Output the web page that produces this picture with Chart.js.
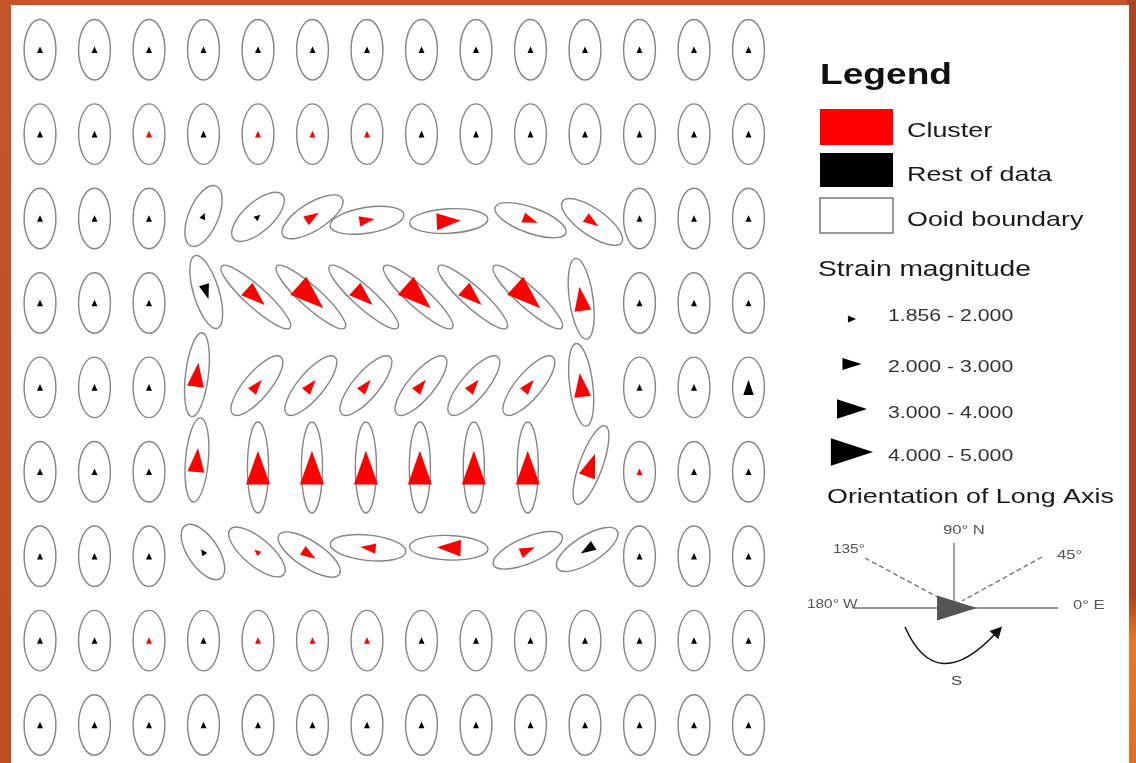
<!DOCTYPE html>
<html>
<head>
<meta charset="utf-8">
<script src="https://cdn.jsdelivr.net/npm/chart.js@4/dist/chart.umd.min.js"></script>
<style>
  html, body { margin: 0; padding: 0; background: #c1502a; overflow: hidden; }
  #wrap { position: absolute; left: 0; top: 0; width: 1136px; height: 763px; }
</style>
</head>
<body>
<div id="wrap"><canvas id="c" width="1136" height="763"></canvas></div>
<script>
// Ooid strain map: one entry per ooid, listed row by row (top row first).
// colPos / rowPos: ooid centre in grid units (column 1..14, row 1..9).
const colPos = [
  1, 2, 3, 4, 5, 6, 7, 8, 9, 10, 11, 12, 13, 14,
  1, 2, 3, 4, 5, 6, 7, 8, 9, 10, 11, 12, 13, 14,
  1, 2, 3, 4.0, 5.0, 6.0, 7.0, 8.5, 10.0, 11.13, 12, 13, 14,
  1, 2, 3, 4.05, 4.96, 5.97, 6.94, 7.94, 8.94, 9.95, 10.93, 12, 13, 14,
  1, 2, 3, 3.88, 4.98, 5.97, 6.98, 7.99, 8.96, 9.97, 10.93, 12, 13, 14,
  1, 2, 3, 3.88, 5.0, 5.99, 6.98, 7.97, 8.96, 9.95, 11.11, 12, 13, 14,
  1, 2, 3, 3.99, 4.98, 5.94, 7.02, 8.5, 9.95, 11.04, 12, 13, 14,
  1, 2, 3, 4, 5, 6, 7, 8, 9, 10, 11, 12, 13, 14,
  1, 2, 3, 4, 5, 6, 7, 8, 9, 10, 11, 12, 13, 14
];
const rowPos = [
  1, 1, 1, 1, 1, 1, 1, 1, 1, 1, 1, 1, 1, 1,
  2, 2, 2, 2, 2, 2, 2, 2, 2, 2, 2, 2, 2, 2,
  3, 3, 3, 2.97, 2.98, 2.98, 3.02, 3.03, 3.02, 3.04, 3, 3, 3,
  4, 4, 4, 3.87, 3.93, 3.93, 3.93, 3.93, 3.93, 3.93, 3.95, 4, 4, 4,
  5, 5, 5, 4.85, 4.98, 4.98, 4.98, 4.98, 4.98, 4.98, 4.97, 5, 5, 5,
  6, 6, 6, 5.86, 5.95, 5.95, 5.95, 5.95, 5.95, 5.95, 5.92, 6, 6, 6,
  7, 7, 7, 6.95, 6.95, 6.98, 6.90, 6.90, 6.93, 6.92, 7, 7, 7,
  8, 8, 8, 8, 8, 8, 8, 8, 8, 8, 8, 8, 8, 8,
  9, 9, 9, 9, 9, 9, 9, 9, 9, 9, 9, 9, 9, 9
];
// Orientation of the long axis, degrees counter-clockwise from 0° E (arrow direction).
const longAxisAngle = [
  90, 90, 90, 90, 90, 90, 90, 90, 90, 90, 90, 90, 90, 90,
  90, 90, 90, 90, 90, 90, 90, 90, 90, 90, 90, 90, 90, 90,
  90, 90, 90, 67, 42, 32, 9, 3, -20, -35, 90, 90, 90,
  90, 90, 90, -73, -42, -42, -42, -42, -42, -42, 98, 90, 90, 90,
  90, 90, 90, 83, 50, 50, 50, 50, 50, 50, 97, 90, 90, 90,
  90, 90, 90, 85, 90, 90, 90, 90, 90, 90, 70, 90, 90, 90,
  90, 90, 90, 124, 140, -33, 174, 178, 23, 212, 90, 90, 90,
  90, 90, 90, 90, 90, 90, 90, 90, 90, 90, 90, 90, 90, 90,
  90, 90, 90, 90, 90, 90, 90, 90, 90, 90, 90, 90, 90, 90
];
// Axial ratio (long / short) of each ooid boundary.
const axialRatio = [
  1.9, 1.9, 1.9, 1.9, 1.9, 1.9, 1.9, 1.9, 1.9, 1.9, 1.9, 1.9, 1.9, 1.9,
  1.9, 1.9, 1.9, 1.9, 1.9, 1.9, 1.9, 1.9, 1.9, 1.9, 1.9, 1.9, 1.9, 1.9,
  1.9, 1.9, 1.9, 2.2, 2.25, 2.55, 2.9, 3.2, 2.95, 2.7, 1.9, 1.9, 1.9,
  1.9, 1.9, 1.9, 3.0, 4.4, 4.4, 4.4, 4.4, 4.4, 4.4, 3.45, 1.9, 1.9, 1.9,
  1.9, 1.9, 1.9, 3.7, 2.9, 2.9, 2.9, 2.9, 2.9, 2.9, 3.6, 1.9, 1.9, 1.9,
  1.9, 1.9, 1.9, 3.7, 4.3, 4.3, 4.3, 4.3, 4.3, 4.3, 3.6, 1.9, 1.9, 1.9,
  1.9, 1.9, 1.9, 2.1, 2.55, 2.7, 3.0, 3.2, 2.9, 2.6, 1.9, 1.9, 1.9,
  1.9, 1.9, 1.9, 1.9, 1.9, 1.9, 1.9, 1.9, 1.9, 1.9, 1.9, 1.9, 1.9, 1.9,
  1.9, 1.9, 1.9, 1.9, 1.9, 1.9, 1.9, 1.9, 1.9, 1.9, 1.9, 1.9, 1.9, 1.9
];
// Strain magnitude shown by the arrow-head size class.
const strainMagnitude = [
  1.9, 1.9, 1.9, 1.9, 1.9, 1.9, 1.9, 1.9, 1.9, 1.9, 1.9, 1.9, 1.9, 1.9,
  1.9, 1.9, 1.9, 1.9, 1.9, 1.9, 1.9, 1.9, 1.9, 1.9, 1.9, 1.9, 1.9, 1.9,
  1.92, 1.92, 1.92, 1.95, 1.95, 2.5, 2.6, 3.3, 2.5, 2.4, 1.9, 1.9, 1.9,
  1.95, 1.95, 1.95, 2.4, 3.4, 4.2, 3.4, 4.2, 3.4, 4.2, 3.5, 1.95, 1.95, 1.95,
  1.95, 1.95, 1.95, 3.5, 2.5, 2.5, 2.5, 2.5, 2.5, 2.5, 3.5, 1.95, 1.95, 2.4,
  1.9, 1.9, 1.9, 3.4, 4.3, 4.3, 4.3, 4.3, 4.3, 4.3, 3.0, 1.9, 1.9, 1.9,
  1.9, 1.9, 1.9, 1.9, 1.9, 2.4, 2.5, 3.3, 2.4, 2.3, 1.9, 1.9, 1.9,
  1.9, 1.9, 1.9, 1.9, 1.9, 1.9, 1.9, 1.9, 1.9, 1.9, 1.9, 1.9, 1.9, 1.9,
  1.9, 1.9, 1.9, 1.9, 1.9, 1.9, 1.9, 1.9, 1.9, 1.9, 1.9, 1.9, 1.9, 1.9
];
// 1 = member of the cluster, 0 = rest of data.
const inCluster = [
  0, 0, 0, 0, 0, 0, 0, 0, 0, 0, 0, 0, 0, 0,
  0, 0, 1, 0, 1, 1, 1, 0, 0, 0, 0, 0, 0, 0,
  0, 0, 0, 0, 0, 1, 1, 1, 1, 1, 0, 0, 0,
  0, 0, 0, 0, 1, 1, 1, 1, 1, 1, 1, 0, 0, 0,
  0, 0, 0, 1, 1, 1, 1, 1, 1, 1, 1, 0, 0, 0,
  0, 0, 0, 1, 1, 1, 1, 1, 1, 1, 1, 1, 0, 0,
  0, 0, 0, 0, 1, 1, 1, 1, 1, 0, 0, 0, 0,
  0, 0, 1, 0, 1, 1, 1, 0, 0, 0, 0, 0, 0, 0,
  0, 0, 0, 0, 0, 0, 0, 0, 0, 0, 0, 0, 0, 0
];
const legendItems = ['Cluster', 'Rest of data', 'Ooid boundary'];
const strainClasses = ['1.856 - 2.000', '2.000 - 3.000', '3.000 - 4.000', '4.000 - 5.000'];

const clusterPts = [], restPts = [];
colPos.forEach((c, i) => {
  const p = { x: c, y: rowPos[i], angle: longAxisAngle[i], ratio: axialRatio[i], mag: strainMagnitude[i] };
  (inCluster[i] ? clusterPts : restPts).push(p);
});

const FONT = '"Liberation Sans", Arial, sans-serif';
const OOID_AREA = 0.162;                 // ellipse area (semi-axes product) in grid units²
const ARROW = [[0.12, 0.11], [0.28, 0.19], [0.44, 0.31], [0.62, 0.44]]; // length, base per class
const strainClass = m => (m < 2 ? 0 : m < 3 ? 1 : m < 4 ? 2 : 3);

function arrowHead(ctx, x, y, deg, len, base, color) {
  const t = deg * Math.PI / 180;
  const ux = Math.cos(t), uy = -Math.sin(t);
  const vx = -uy, vy = ux;
  ctx.beginPath();
  ctx.moveTo(x + ux * len / 2, y + uy * len / 2);
  ctx.lineTo(x - ux * len / 2 + vx * base / 2, y - uy * len / 2 + vy * base / 2);
  ctx.lineTo(x - ux * len / 2 - vx * base / 2, y - uy * len / 2 - vy * base / 2);
  ctx.closePath();
  ctx.fillStyle = color;
  ctx.fill();
}

function wideText(ctx, t, x, y, size, color, opts) {
  const o = opts || {};
  ctx.save();
  ctx.font = (o.bold ? 'bold ' : '') + size + 'px ' + FONT;
  ctx.fillStyle = color;
  ctx.textBaseline = 'alphabetic';
  ctx.textAlign = o.align || 'left';
  ctx.translate(x, y);
  ctx.scale(o.sx || 1.28, 1);
  ctx.fillText(t, 0, 0);
  ctx.restore();
}

const ooidMap = {
  id: 'ooidMap',
  beforeDraw(chart) {
    const ctx = chart.ctx;
    const W = chart.width, H = chart.height;
    const g = ctx.createLinearGradient(0, 0, 0, H);
    g.addColorStop(0, '#c4552b');
    g.addColorStop(1, '#c24c22');
    ctx.fillStyle = g;
    ctx.fillRect(0, 0, W, H);
    const r = ctx.createLinearGradient(0, 0, 0, H);
    r.addColorStop(0, '#a8441f');
    r.addColorStop(0.78, '#ab441e');
    r.addColorStop(0.84, '#e8782f');
    r.addColorStop(1, '#e06e28');
    ctx.fillStyle = r;
    ctx.fillRect(1127, 0, W - 1127, H);
    ctx.fillStyle = '#ffffff';
    ctx.fillRect(11, 5, 1118, H - 5);
  },
  afterDatasetsDraw(chart) {
    const ctx = chart.ctx;
    const xs = chart.scales.x;
    const unit = Math.abs(xs.getPixelForValue(2) - xs.getPixelForValue(1));
    const colors = ['#ff0000', '#000000'];
    ctx.save();
    chart.data.datasets.forEach((ds, di) => {
      chart.getDatasetMeta(di).data.forEach((pt, i) => {
        const d = ds.data[i];
        const t = d.angle * Math.PI / 180;
        const a = Math.sqrt(OOID_AREA * d.ratio) * unit;
        const b = Math.sqrt(OOID_AREA / d.ratio) * unit;
        ctx.beginPath();
        ctx.ellipse(pt.x, pt.y, a, b, -t, 0, Math.PI * 2);
        ctx.strokeStyle = '#858585';
        ctx.lineWidth = 1.4;
        ctx.stroke();
      });
    });
    chart.data.datasets.forEach((ds, di) => {
      chart.getDatasetMeta(di).data.forEach((pt, i) => {
        const d = ds.data[i];
        const s = ARROW[strainClass(d.mag)];
        arrowHead(ctx, pt.x, pt.y, d.angle, s[0] * unit, s[1] * unit, colors[di]);
      });
    });
    ctx.restore();
  },
  afterDraw(chart) {
    const ctx = chart.ctx;
    ctx.save();
    wideText(ctx, 'Legend', 820, 84, 29, '#111', { bold: true });
    ctx.fillStyle = '#ff0000'; ctx.fillRect(820, 109, 73, 36);
    ctx.fillStyle = '#000000'; ctx.fillRect(820, 153, 73, 34);
    ctx.fillStyle = '#ffffff'; ctx.fillRect(820, 198, 73, 35);
    ctx.strokeStyle = '#777'; ctx.lineWidth = 1.5; ctx.strokeRect(820, 198, 73, 35);
    const itemY = [137, 181, 226];
    legendItems.forEach((t, i) => wideText(ctx, t, 907, itemY[i], 21, '#1a1a1a'));

    wideText(ctx, 'Strain magnitude', 818, 276, 22, '#1a1a1a');
    const triY = [319, 364, 409, 452];
    const labY = [321, 372, 418, 461];
    const lx = [1.25, 1.25, 1.25, 1.25];
    strainClasses.forEach((t, i) => {
      const s = ARROW[i];
      arrowHead(ctx, 852, triY[i], 0, s[0] * 54.5 * 1.25, s[1] * 54.5 * 1.15, '#000');
      wideText(ctx, t, 888, labY[i], 17, '#333', { sx: lx[i] });
    });

    wideText(ctx, 'Orientation of Long Axis', 827, 503, 21, '#1a1a1a');
    // compass of long-axis orientation
    ctx.strokeStyle = '#777';
    ctx.lineWidth = 1.4;
    ctx.beginPath();
    ctx.moveTo(954, 543); ctx.lineTo(954, 608);
    ctx.moveTo(853, 608); ctx.lineTo(1058, 608);
    ctx.stroke();
    ctx.setLineDash([5, 3]);
    ctx.beginPath();
    ctx.moveTo(865, 558); ctx.lineTo(945, 601);
    ctx.moveTo(1042, 557); ctx.lineTo(962, 601);
    ctx.stroke();
    ctx.setLineDash([]);
    arrowHead(ctx, 957, 608, 0, 40, 25, '#555');
    wideText(ctx, '90° N', 943, 534, 13, '#555');
    wideText(ctx, '135°', 833, 553, 12, '#555');
    wideText(ctx, '45°', 1057, 559, 13, '#555');
    wideText(ctx, '180° W', 807, 608, 12, '#555');
    wideText(ctx, '0° E', 1073, 609, 13, '#555');
    wideText(ctx, 'S', 951, 685, 13, '#444');
    // rotation sense arrow
    ctx.strokeStyle = '#111';
    ctx.lineWidth = 1.5;
    ctx.beginPath();
    ctx.moveTo(905, 627);
    ctx.quadraticCurveTo(936, 697, 996, 633);
    ctx.stroke();
    const ang = Math.atan2(633 - 697, 996 - 936);
    ctx.beginPath();
    const tx = 996 + Math.cos(ang) * 9, ty = 633 + Math.sin(ang) * 9;
    const bx = 996 - Math.cos(ang) * 3, by = 633 - Math.sin(ang) * 3;
    ctx.moveTo(tx, ty);
    ctx.lineTo(bx + Math.sin(ang) * 6, by - Math.cos(ang) * 6);
    ctx.lineTo(bx - Math.sin(ang) * 6, by + Math.cos(ang) * 6);
    ctx.closePath();
    ctx.fillStyle = '#111';
    ctx.fill();
    ctx.restore();
  }
};

new Chart(document.getElementById('c'), {
  type: 'scatter',
  data: {
    datasets: [
      { label: legendItems[0], data: clusterPts, backgroundColor: '#ff0000', pointRadius: 0 },
      { label: legendItems[1], data: restPts, backgroundColor: '#000000', pointRadius: 0 }
    ]
  },
  options: {
    responsive: false,
    animation: false,
    events: [],
    layout: { padding: { left: 12.75, right: 360.25, top: 7.5, bottom: 0 } },
    scales: {
      x: { type: 'linear', min: 0.5, max: 14.5, display: false },
      y: { type: 'linear', min: 0.5, max: 9.45, reverse: true, display: false }
    },
    plugins: { legend: { display: false }, tooltip: { enabled: false } }
  },
  plugins: [ooidMap]
});
</script>
</body>
</html>
